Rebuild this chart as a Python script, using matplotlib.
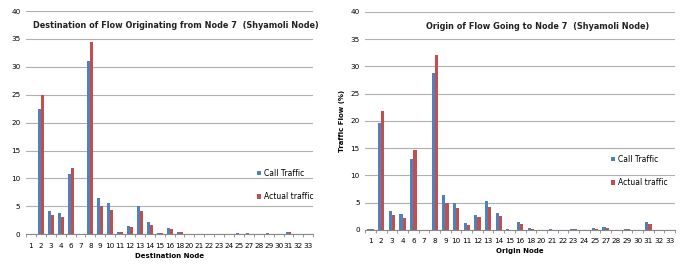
import numpy as np
import matplotlib.pyplot as plt

nodes = ['1', '2', '3', '4', '6', '7', '8', '9', '10', '11', '12', '13', '14', '15', '16',
         '18', '20', '21', '22', '23', '24', '25', '27', '28', '29', '30', '31', '32', '33']

# Destination of flow originating from node 7
dest_call = [0.1, 22.4, 4.2, 3.8, 10.7, 0, 31.1, 6.5, 5.5, 0.4, 1.5, 5.0, 2.2, 0.2, 1.1,
             0.4, 0, 0.1, 0, 0.1, 0, 0.2, 0.2, 0, 0.2, 0, 0.4, 0, 0]
dest_actual = [0, 24.9, 3.4, 3.0, 11.8, 0, 34.5, 5.1, 4.4, 0.4, 1.2, 4.1, 1.7, 0.2, 0.9,
               0.3, 0, 0, 0, 0.1, 0, 0.1, 0.1, 0, 0.1, 0, 0.3, 0, 0]

# Origin of flow going to node 7
orig_call = [0.1, 19.6, 3.4, 2.9, 13.1, 0, 28.7, 6.4, 4.9, 1.2, 2.8, 5.4, 3.1, 0.1, 1.4,
             0.3, 0, 0.1, 0, 0.2, 0, 0.3, 0.5, 0, 0.2, 0, 1.4, 0, 0]
orig_actual = [0.1, 21.9, 2.7, 2.2, 14.7, 0, 32.1, 5.0, 4.0, 0.9, 2.3, 4.3, 2.6, 0, 1.1,
               0.2, 0, 0, 0, 0.1, 0, 0.2, 0.4, 0, 0.2, 0, 1.0, 0, 0]

blue = '#4F81BD'
red = '#C0504D'

fig = plt.figure(figsize=(6.84, 2.64), dpi=100)
plt.rcParams['font.family'] = 'DejaVu Sans'


def draw(ax, call, actual, title, xlabel, ylabel=None, title_x=0.5, leg_pos=(0.78, 0.4)):
    x = np.arange(len(nodes))
    w = 0.3
    ax.bar(x - w / 2, call, width=w, color=blue, label='Call Traffic', zorder=3)
    ax.bar(x + w / 2, actual, width=w, color=red, label='Actual traffic', zorder=3)
    ax.set_xlim(-0.5, len(nodes) - 0.5)
    ax.set_ylim(0, 40)
    ax.set_yticks(range(0, 41, 5))
    ax.yaxis.grid(True, color='#b0b0b0', linewidth=0.8, zorder=0)
    ax.set_xticks(x)
    ax.set_xticklabels(nodes, fontsize=5.2)
    ax.set_xticks(np.arange(-0.5, len(nodes), 1), minor=True)
    ax.tick_params(axis='x', which='major', length=0, pad=6)
    ax.tick_params(axis='x', which='minor', length=2.5, color='#888888')
    ax.tick_params(axis='y', length=0, labelsize=5.2, pad=4)
    for s in ['top', 'right', 'left']:
        ax.spines[s].set_visible(False)
    ax.spines['bottom'].set_color('#888888')
    ax.set_xlabel(xlabel, fontsize=5, fontweight='bold', labelpad=3)
    if ylabel:
        ax.set_ylabel(ylabel, fontsize=5, fontweight='bold')
    ax.text(title_x, 0.935, title, transform=ax.transAxes, ha='center', va='center',
            fontsize=5.9, fontweight='bold', color='#222222')
    ax.legend(loc='center left', bbox_to_anchor=leg_pos, frameon=False, fontsize=5.5,
              handlelength=0.5, handleheight=0.5, handletextpad=0.4, labelspacing=1.9)


ax1 = fig.add_axes([0.038, 0.113, 0.420, 0.845])
draw(ax1, dest_call, dest_actual,
     'Destination of Flow Originating from Node 7  (Shyamoli Node)',
     'Destination Node', title_x=0.52, leg_pos=(0.78, 0.22))

ax2 = fig.add_axes([0.534, 0.129, 0.453, 0.826])
draw(ax2, orig_call, orig_actual,
     'Origin of Flow Going to Node 7  (Shyamoli Node)',
     'Origin Node', ylabel='Traffic Flow (%)', title_x=0.555, leg_pos=(0.77, 0.27))

plt.savefig('out.png', dpi=100)
